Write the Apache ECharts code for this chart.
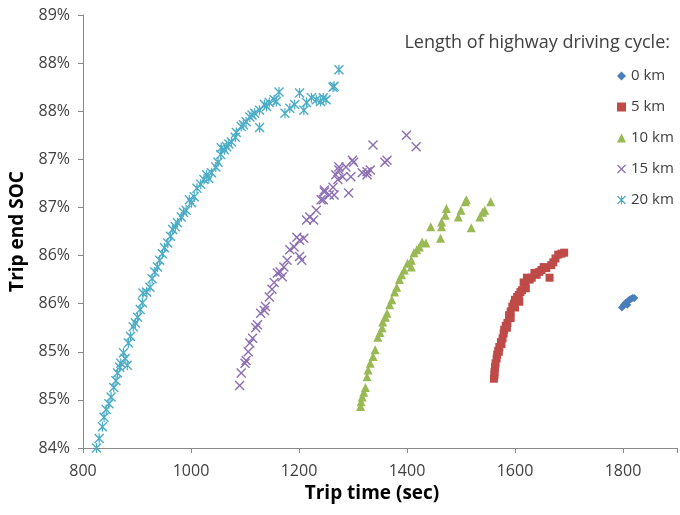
<!DOCTYPE html>
<html>
<head>
<meta charset="utf-8">
<script src="https://cdn.jsdelivr.net/npm/echarts@6/dist/echarts.min.js"></script>
<style>
  html, body { margin: 0; padding: 0; background: #fff; }
  #chart { width: 680px; height: 515px; }
</style>
</head>
<body>
<div id="chart"></div>
<script>
// Trip end state of charge vs. trip time, by length of highway driving cycle
const seriesNames = ['0 km', '5 km', '10 km', '15 km', '20 km'];
const xTicks = [800, 1000, 1200, 1400, 1600, 1800];

// [trip time (sec), trip end SOC (%)]
const km0 = [[1798,85.46],[1802,85.49],[1805,85.51],[1808,85.49],[1810,85.53],[1812,85.54],[1815,85.55],[1818,85.56],[1821,85.56]];

const km5 = [[1561,84.72],[1562,84.76],[1562,84.79],[1563,84.84],[1564,84.88],[1566,84.93],[1567,84.97],[1569,85.01],
  [1570,85.00],[1571,85.05],[1574,85.10],[1575,85.08],[1577,85.14],[1579,85.19],[1580,85.23],[1583,85.27],[1585,85.25],
  [1586,85.30],[1589,85.38],[1592,85.35],[1592,85.42],[1595,85.47],[1598,85.50],[1600,85.46],[1600,85.54],[1604,85.57],
  [1607,85.59],[1608,85.52],[1610,85.62],[1613,85.64],[1616,85.72],[1619,85.70],[1620,85.66],[1622,85.77],[1627,85.75],
  [1631,85.77],[1636,85.82],[1640,85.80],[1645,85.83],[1649,85.85],[1653,85.88],[1658,85.87],[1664,85.77],[1667,85.90],
  [1671,85.93],[1675,85.97],[1680,86.01],[1686,86.02],[1691,86.03]];

const km10 = [[1314,84.43],[1315,84.48],[1317,84.53],[1320,84.58],[1323,84.63],[1326,84.74],[1328,84.81],[1332,84.88],
  [1337,84.95],[1341,85.02],[1346,85.15],[1350,85.20],[1354,85.25],[1355,85.31],[1360,85.36],[1363,85.40],[1368,85.49],
  [1372,85.54],[1377,85.62],[1381,85.67],[1386,85.75],[1390,85.80],[1395,85.85],[1401,85.92],[1408,85.88],[1408,85.95],
  [1413,86.03],[1418,86.06],[1423,86.09],[1428,86.14],[1435,86.13],[1444,86.30],[1462,86.18],[1464,86.30],[1464,86.35],
  [1471,86.42],[1473,86.49],[1495,86.40],[1500,86.47],[1508,86.56],[1510,86.58],[1519,86.29],[1535,86.40],[1540,86.45],
  [1544,86.47],[1555,86.56]];

const km15 = [[1090,84.65],[1093,84.78],[1100,84.88],[1102,84.91],[1106,85.00],[1109,85.09],[1114,85.14],[1120,85.25],
  [1123,85.28],[1129,85.40],[1136,85.43],[1138,85.47],[1145,85.57],[1150,85.65],[1154,85.72],[1160,85.82],[1165,85.83],
  [1169,85.78],[1172,85.88],[1178,85.95],[1183,86.06],[1191,86.09],[1196,86.19],[1201,86.16],[1201,85.99],[1205,85.95],
  [1209,86.18],[1214,86.37],[1220,86.40],[1227,86.37],[1232,86.47],[1241,86.58],[1245,86.58],[1247,86.66],[1247,86.68],
  [1256,86.63],[1263,86.71],[1265,86.63],[1268,86.84],[1272,86.79],[1274,86.89],[1274,86.92],[1281,86.82],[1287,86.92],
  [1292,86.65],[1296,86.82],[1299,86.99],[1301,86.97],[1317,86.86],[1326,86.84],[1326,86.87],[1332,86.89],[1337,87.15],
  [1359,86.97],[1363,86.99],[1399,87.25],[1417,87.13]];

const km20 = [[825,84.00],[830,84.10],[836,84.22],[839,84.32],[843,84.40],[848,84.46],[852,84.53],[857,84.63],[861,84.70],
  [864,84.78],[868,84.84],[870,84.88],[875,84.99],[882,84.86],[878,84.93],[884,85.09],[888,85.16],[893,85.26],[897,85.30],
  [901,85.36],[906,85.44],[910,85.51],[911,85.61],[918,85.62],[924,85.67],[928,85.76],[933,85.83],[938,85.88],[942,85.95],
  [947,86.02],[951,86.08],[957,86.13],[962,86.20],[966,86.27],[971,86.30],[975,86.34],[982,86.40],[986,86.45],[991,86.47],
  [997,86.58],[1001,86.55],[1006,86.61],[1011,86.70],[1018,86.74],[1024,86.79],[1029,86.84],[1033,86.80],[1038,86.86],
  [1046,86.92],[1050,86.97],[1055,87.05],[1056,87.12],[1062,87.10],[1066,87.13],[1070,87.16],[1075,87.18],[1082,87.23],
  [1084,87.28],[1093,87.34],[1097,87.36],[1102,87.39],[1109,87.44],[1113,87.46],[1118,87.48],[1127,87.33],[1127,87.51],
  [1136,87.57],[1140,87.55],[1145,87.59],[1154,87.62],[1158,87.60],[1163,87.70],[1174,87.48],[1183,87.53],[1192,87.57],
  [1201,87.69],[1209,87.51],[1214,87.59],[1223,87.64],[1232,87.62],[1240,87.60],[1245,87.64],[1250,87.62],[1263,87.75],
  [1265,87.76],[1274,87.93]];

const seriesData = [km0, km5, km10, km15, km20];
const colors = ['#4A7EBB', '#BE4B48', '#98B954', '#8C6FB3', '#4BACC6'];

// thin filled cross and asterisk marker outlines
const crossPath = 'path://M0,1L1,0L5,4L9,0L10,1L6,5L10,9L9,10L5,6L1,10L0,9L4,5Z';
const starPath = 'path://M0,1L1,0L4.4,3.4L4.4,0L5.6,0L5.6,3.4L9,0L10,1L6,5L10,9L9,10L5.6,6.6L5.6,10L4.4,10L4.4,6.6L1,10L0,9L4,5Z';
const symbols = ['diamond', 'rect', 'triangle', crossPath, starPath];
const sizes = [8, 8, 9, 10, 10];

const font = '"Open Sans", sans-serif';
const chart = echarts.init(document.getElementById('chart'), null, { renderer: 'canvas' });

chart.setOption({
  animation: false,
  backgroundColor: '#ffffff',
  textStyle: { fontFamily: font },
  title: {
    text: 'Length of highway driving cycle:',
    right: 10, top: 34, padding: 0,
    textStyle: { fontFamily: font, fontSize: 18, fontWeight: 'normal', color: '#404040' }
  },
  legend: {
    orient: 'vertical',
    left: 617, top: 67,
    itemWidth: 9, itemHeight: 9, itemGap: 13,
    padding: 0,
    data: seriesNames,
    textStyle: { fontFamily: font, fontSize: 15, color: '#404040', lineHeight: 18 }
  },
  grid: { left: 81.5, top: 15, right: -8.5, bottom: 67, containLabel: false },
  xAxis: {
    type: 'value',
    min: xTicks[0], max: 1900, interval: 200,
    name: 'Trip time (sec)', nameLocation: 'middle', nameGap: 35,
    nameTextStyle: { fontFamily: font, fontSize: 19, fontWeight: 'bold', color: '#000', padding: [0, 16, 0, 0] },
    axisLine: { lineStyle: { color: '#8a8a8a', width: 1 } },
    axisTick: { show: true, length: 5, lineStyle: { color: '#8a8a8a' } },
    axisLabel: {
      fontFamily: font, fontSize: 16, color: '#404040', margin: 15,
      formatter: v => (xTicks.indexOf(v) >= 0 ? String(v) : '')
    },
    splitLine: { show: false }
  },
  yAxis: {
    type: 'value',
    min: 84, max: 88.5, interval: 0.5,
    name: 'Trip end SOC', nameLocation: 'middle', nameGap: 56, nameRotate: 90,
    nameTextStyle: { fontFamily: font, fontSize: 19, fontWeight: 'bold', color: '#000' },
    axisLine: { show: true, lineStyle: { color: '#8a8a8a', width: 1 } },
    axisTick: { show: true, length: 5, lineStyle: { color: '#8a8a8a' } },
    axisLabel: {
      fontFamily: font, fontSize: 16, color: '#404040', margin: 13,
      formatter: v => Math.round(v) + '%'
    },
    splitLine: { show: false }
  },
  series: seriesNames.map((name, i) => ({
    name,
    type: 'scatter',
    data: seriesData[i],
    symbol: symbols[i],
    symbolSize: sizes[i],
    itemStyle: { color: colors[i], opacity: 1 },
    emphasis: { disabled: true }
  }))
});
</script>
</body>
</html>
